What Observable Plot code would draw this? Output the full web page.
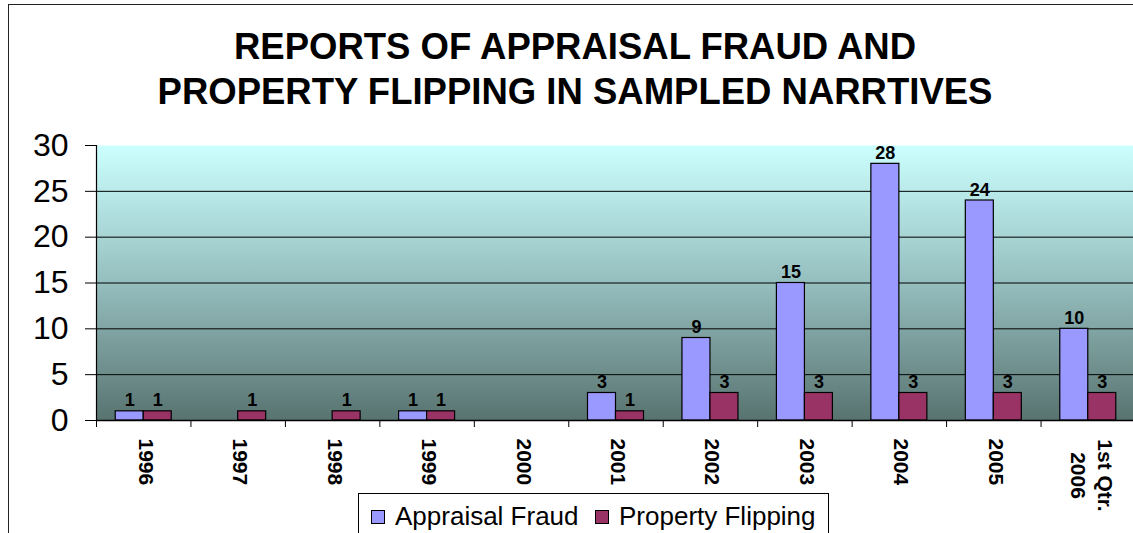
<!DOCTYPE html>
<html>
<head>
<meta charset="utf-8">
<script src="https://cdn.jsdelivr.net/npm/d3@7"></script>
<script src="https://cdn.jsdelivr.net/npm/@observablehq/plot@0.6"></script>
<style>
  html, body { margin: 0; padding: 0; background: #fff; }
  #wrap { position: relative; width: 1133px; height: 533px; overflow: hidden; font-family: Arial, "Liberation Sans", sans-serif; }
  #border { position: absolute; left: 8px; top: 4px; width: 1200px; height: 600px; border-left: 1.5px solid #222; border-top: 1.5px solid #222; }
  #title { position: absolute; left: 575px; top: 24px; transform: translateX(-50%); white-space: nowrap; text-align: center; font-weight: bold; font-size: 36.5px; line-height: 45px; color: #000; }
  #chart { position: absolute; left: 0; top: 0; }
  #legend { position: absolute; left: 358px; top: 493px; width: 469px; height: 60px; border: 1px solid #000; background: #fff; font-size: 26px; color: #000; }
  .item { position: absolute; top: 7px; display: flex; align-items: center; }
  .sw { width: 12px; height: 12px; border: 1px solid #000; margin-right: 10px; }
</style>
</head>
<body>
<div id="wrap">
  <div id="border"></div>
  <div id="chart"></div>
  <div id="title">REPORTS OF APPRAISAL FRAUD AND<br>PROPERTY FLIPPING IN SAMPLED NARRTIVES</div>
  <div id="legend"></div>
</div>
<script>
const years = ["1996", "1997", "1998", "1999", "2000", "2001", "2002", "2003", "2004", "2005", "1st Qtr.\n2006"];
const appraisalFraud = [1, null, null, 1, null, 3, 9, 15, 28, 24, 10];
const propertyFlipping = [1, 1, 1, 1, null, 1, 3, 3, 3, 3, 3];
const seriesNames = ["Appraisal Fraud", "Property Flipping"];
const seriesColors = ["#9999FF", "#993366"];
const yTicks = [0, 5, 10, 15, 20, 25, 30];

const W = 1133, H = 533;
const mL = 96, mR = -2, mT = 145, mB = 113;
const step = (W - mL - mR) / years.length;
const barW = 28;

const rowsA = years.map((y, i) => ({year: y, value: appraisalFraud[i]})).filter(d => d.value != null);
const rowsP = years.map((y, i) => ({year: y, value: propertyFlipping[i]})).filter(d => d.value != null);
const singleLabels = years.filter(y => !y.includes("\n"));
const multiLabels = years.filter(y => y.includes("\n"));
const labelFont = {fontWeight: "bold", fontSize: 21, fill: "#000"};

const chart = Plot.plot({
  width: W, height: H,
  marginLeft: mL, marginRight: mR, marginTop: mT, marginBottom: mB,
  style: {background: "transparent", fontFamily: "Arial, 'Liberation Sans', sans-serif", color: "#000", overflow: "visible"},
  x: {domain: years, padding: 0, round: false, axis: null},
  y: {domain: [0, 30], axis: null},
  marks: [
    Plot.frame({fill: "url(#bg)", stroke: "none"}),
    Plot.ruleY(yTicks.filter(d => d > 0 && d < 30), {stroke: "#000", strokeWidth: 1}),
    Plot.axisY({ticks: yTicks, label: null, tickSize: 11, tickPadding: 17, fontSize: 32, stroke: "#000", strokeWidth: 1, tickFormat: d => String(d)}),
    Plot.frame({anchor: "left", stroke: "#000", strokeWidth: 1.2}),
    Plot.barY(rowsA, {x: "year", y: "value", fill: seriesColors[0], stroke: "#000", strokeWidth: 1.2,
      insetLeft: step / 2 - barW, insetRight: step / 2}),
    Plot.barY(rowsP, {x: "year", y: "value", fill: seriesColors[1], stroke: "#000", strokeWidth: 1.2,
      insetLeft: step / 2, insetRight: step / 2 - barW}),
    Plot.text(rowsA, {x: "year", y: "value", text: d => String(d.value), dx: -barW / 2, dy: -5, lineAnchor: "bottom", fontWeight: "bold", fontSize: 18, fill: "#000"}),
    Plot.text(rowsP, {x: "year", y: "value", text: d => String(d.value), dx: barW / 2, dy: -5, lineAnchor: "bottom", fontWeight: "bold", fontSize: 18, fill: "#000"}),
    Plot.ruleY([0], {stroke: "#000", strokeWidth: 1.5}),
    Plot.axisX({tickSize: 7, label: null, tickFormat: () => "", dx: -step / 2, stroke: "#000", strokeWidth: 1}),
    Plot.text(singleLabels, {x: d => d, frameAnchor: "bottom", rotate: 90, textAnchor: "start", dx: -5, dy: 18, ...labelFont}),
    Plot.text(multiLabels, {x: d => d, text: d => d.split("\n")[0], frameAnchor: "bottom", rotate: 90, textAnchor: "middle", dx: 10, dy: 18 + 37, ...labelFont}),
    Plot.text(multiLabels, {x: d => d, text: d => d.split("\n")[1], frameAnchor: "bottom", rotate: 90, textAnchor: "middle", dx: -17, dy: 18 + 37, ...labelFont})
  ]
});

d3.select(chart).insert("defs", ":first-child").html(
  `<linearGradient id="bg" x1="0" y1="0" x2="0" y2="1">
     <stop offset="0" stop-color="#CCFFFF"/>
     <stop offset="0.5" stop-color="#95BEBE"/>
     <stop offset="1" stop-color="#587370"/>
   </linearGradient>`
);
document.getElementById("chart").appendChild(chart);

const legend = d3.select("#legend");
const lx = [12, 236];
seriesNames.forEach((name, i) => {
  const it = legend.append("div").attr("class", "item").style("left", lx[i] + "px");
  it.append("div").attr("class", "sw").style("background", seriesColors[i]);
  it.append("span").text(name);
});
</script>
</body>
</html>
